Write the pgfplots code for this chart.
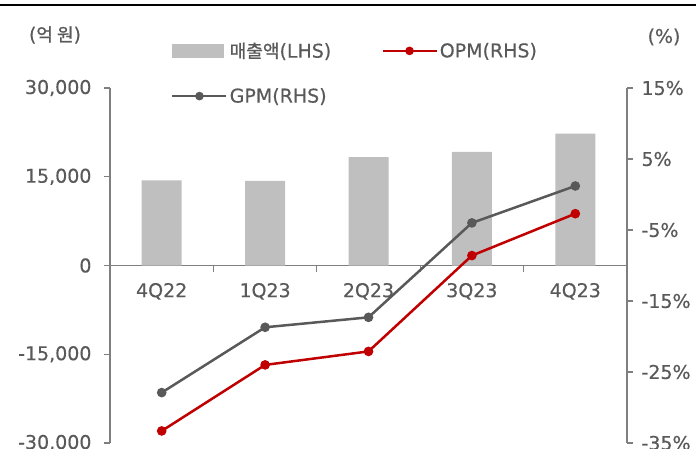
\documentclass[border=0pt]{standalone}
\usepackage{pgfplots}
\pgfplotsset{compat=1.18}
\usepackage{fontspec}
\setmainfont{DejaVu Sans}[FakeBold=0.4]
\newfontfamily\kr{Noto Sans CJK KR}[Scale=0.95, FakeBold=1.2]

\definecolor{txtgray}{HTML}{595959}
\definecolor{axgray}{HTML}{7F7F7F}
\definecolor{bargray}{HTML}{BFBFBF}
\definecolor{opmred}{HTML}{C00000}
\definecolor{gpmgray}{HTML}{595959}

\newcommand{\lblfont}{\fontsize{19}{22}\selectfont}

% quarterly sales (100M KRW) and margins (%)
\pgfplotstableread{
idx sales gpm opm
0 14400 -27.9 -33.3
1 14300 -18.7 -24.0
2 18300 -17.3 -22.1
3 19200 -4.0 -8.6
4 22300 1.2 -2.7
}\qdata

\pgfplotsset{
  salesleg/.style={legend image code/.code={\fill[bargray] (0pt,-6.5pt) rectangle (51pt,6.5pt);}},
  opmleg/.style={legend image code/.code={\draw[opmred, line width=2.5pt] (0pt,0pt) -- (54pt,0pt); \fill[opmred] (27pt,0pt) circle (3pt);}},
  gpmleg/.style={legend image code/.code={\draw[gpmgray, line width=2.5pt] (0pt,0pt) -- (54pt,0pt); \fill[gpmgray] (27pt,0pt) circle (3pt);}},
  frame/.style={
    at={(110pt,5pt)}, anchor=south west,
    scale only axis, width=517pt, height=355pt,
    xmin=-0.5, xmax=4.5,
    axis line style={axgray, line width=1.3pt},
    tick style={axgray, line width=1.3pt},
    tick align=outside, major tick length=6pt,
    tick label style={font=\lblfont, text=txtgray},
    scaled y ticks=false,
  },
}

\begin{document}
\begin{tikzpicture}[x=1pt,y=1pt]
\useasboundingbox (0,0) rectangle (696,448);
\draw[black, line width=2.2pt] (0,443) -- (696,443);
\node[text=txtgray, font=\lblfont] at (55,413) {({\kr 억 원})};
\node[text=txtgray, font=\lblfont] at (664,411) {(\%)};

\begin{axis}[
  frame,
  ymin=-30000, ymax=30000,
  axis y line*=left, axis x line*=middle,
  ytick={-30000,-15000,0,15000,30000},
  yticklabels={{-30,000},{-15,000},{0},{15,000},{30,000}},
  yticklabel style={xshift=-9pt},
  xtick={0,1,2,3,4},
  xticklabels={4Q22,1Q23,2Q23,3Q23,4Q23},
  x tick style={draw=none},
  xticklabel style={yshift=-8pt},
]
\addplot[ybar, bar width=40pt, fill=bargray, draw=none] table[x=idx, y=sales]{\qdata};
\draw[axgray, line width=1.3pt] (axis cs:0.5,0) -- ([yshift=-6pt]axis cs:0.5,0);
\draw[axgray, line width=1.3pt] (axis cs:1.5,0) -- ([yshift=-6pt]axis cs:1.5,0);
\draw[axgray, line width=1.3pt] (axis cs:2.5,0) -- ([yshift=-6pt]axis cs:2.5,0);
\draw[axgray, line width=1.3pt] (axis cs:3.5,0) -- ([yshift=-6pt]axis cs:3.5,0);
\end{axis}

\begin{axis}[
  frame,
  ymin=-35, ymax=15,
  axis y line*=right, axis x line=none,
  ytick={-35,-25,-15,-5,5,15},
  yticklabels={{-35\%},{-25\%},{-15\%},{-5\%},{5\%},{15\%}},
  yticklabel style={xshift=5pt},
  legend columns=2,
  legend cell align=left,
  legend style={at={(0.118,1.134)}, anchor=north west, draw=none, fill=none,
    font=\lblfont, text=txtgray, inner sep=0pt, row sep=25pt,
    /tikz/every odd column/.append style={column sep=0pt},
    /tikz/every even column/.append style={column sep=48pt}},
]
\addlegendimage{salesleg}
\addlegendentry{{\kr 매출액}(LHS)}
\addplot[opmred, line width=2.5pt, mark=*, mark size=3.5pt, opmleg] table[x=idx, y=opm]{\qdata};
\addlegendentry{OPM(RHS)}
\addplot[gpmgray, line width=2.5pt, mark=*, mark size=3.5pt, gpmleg] table[x=idx, y=gpm]{\qdata};
\addlegendentry{GPM(RHS)}
\end{axis}
\end{tikzpicture}
\end{document}
